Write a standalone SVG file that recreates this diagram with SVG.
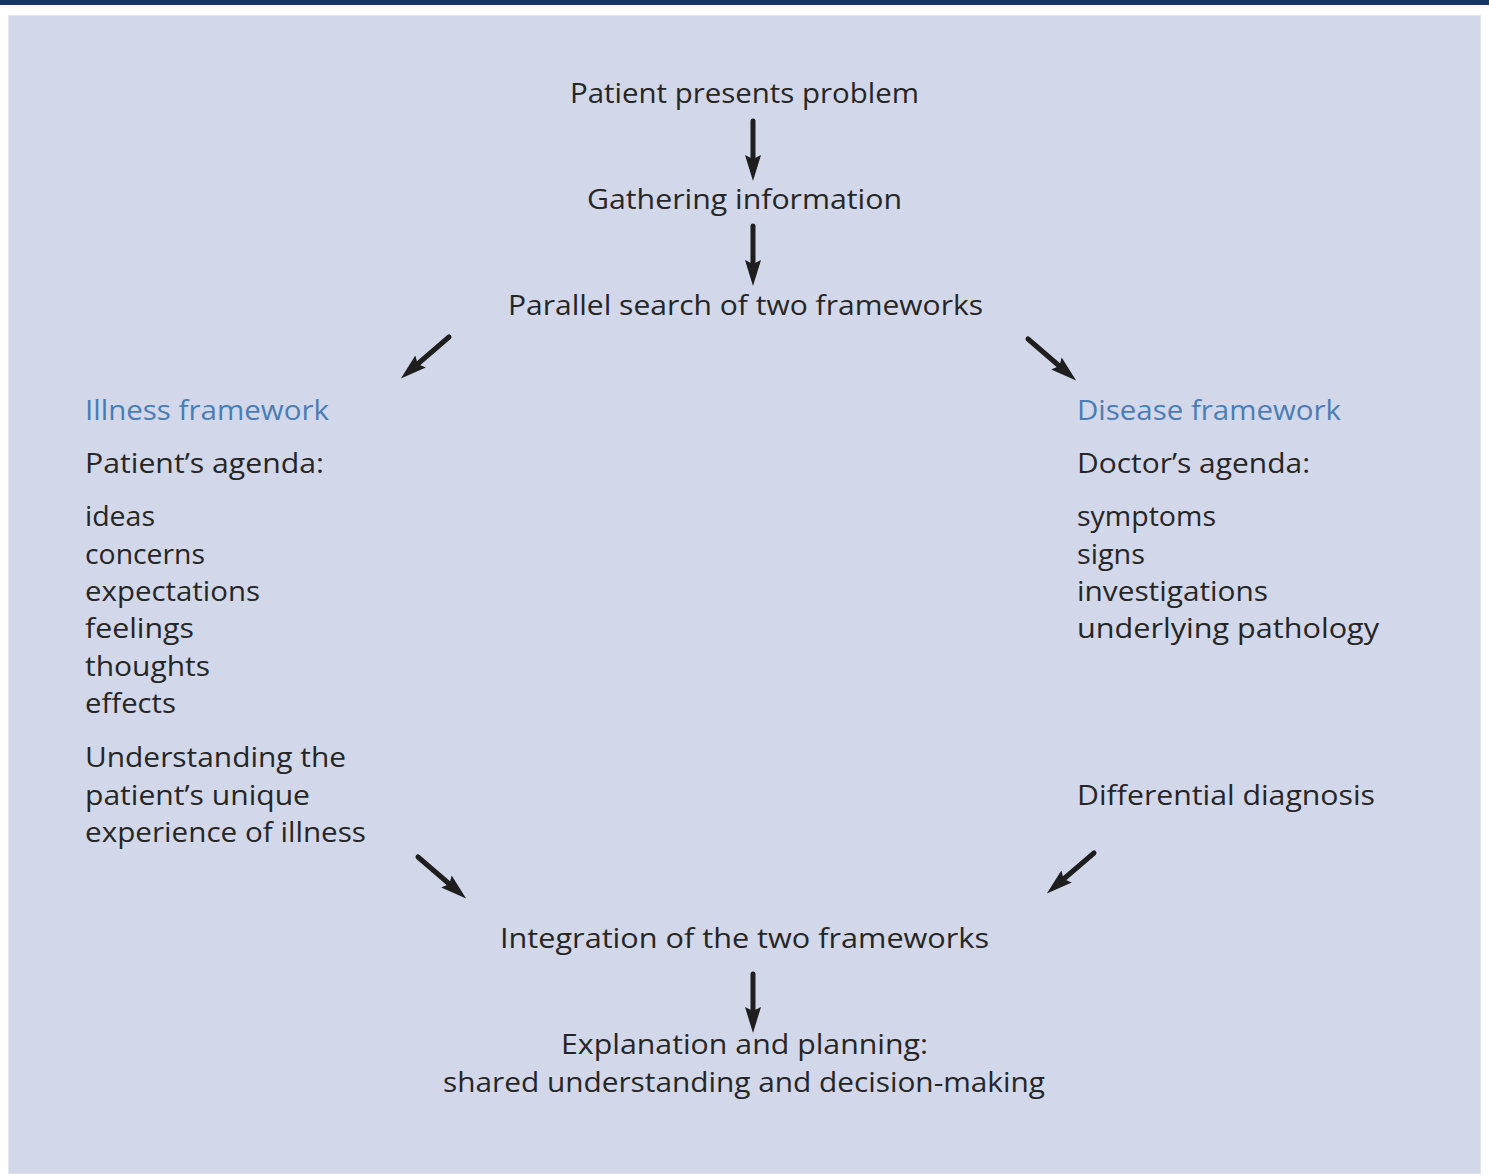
<svg xmlns="http://www.w3.org/2000/svg" width="1489" height="1175" viewBox="0 0 1489 1175">
<defs>
<marker id="ah" markerUnits="userSpaceOnUse" markerWidth="26" markerHeight="16" viewBox="0 0 26 16" refX="10" refY="8" orient="auto">
<path d="M0,0 L26,8 L0,16 L4,8 z" fill="#1e1e1e"/>
</marker>
<style>
text{font-family:"Open Sans","Noto Sans","DejaVu Sans",sans-serif;font-size:27px;fill:#262626}
.c{text-anchor:middle}
.b{fill:#4a7db4}
.arr{stroke:#1e1e1e;stroke-width:5;stroke-linecap:round;fill:none;marker-end:url(#ah)}
</style>
</defs>
<rect x="0" y="0" width="1489" height="1175" fill="#ffffff"/>
<rect x="0" y="0" width="1489" height="5" fill="#17365e"/>
<rect x="8.5" y="15.5" width="1472" height="1158" fill="#d2d7ea" stroke="#e2e4ec" stroke-width="1"/>

<g id="connectors">
<line class="arr" x1="753" y1="121" x2="753" y2="165"/>
<line class="arr" x1="753" y1="226" x2="753" y2="270"/>
<line class="arr" x1="449" y1="337" x2="413" y2="368"/>
<line class="arr" x1="1028" y1="339" x2="1064" y2="370"/>
<line class="arr" x1="418" y1="857" x2="454" y2="888"/>
<line class="arr" x1="1094" y1="853" x2="1059" y2="883"/>
<line class="arr" x1="753" y1="974" x2="753" y2="1017"/>
</g>

<g id="n-patient-presents"><text class="c" x="744.5" y="103" textLength="349" lengthAdjust="spacingAndGlyphs">Patient presents problem</text></g>
<g id="n-gathering"><text class="c" x="744.5" y="209" textLength="315" lengthAdjust="spacingAndGlyphs">Gathering information</text></g>
<g id="n-parallel"><text class="c" x="745.5" y="315" textLength="475" lengthAdjust="spacingAndGlyphs">Parallel search of two frameworks</text></g>

<g id="n-illness">
<text class="b" x="85" y="420" textLength="244" lengthAdjust="spacingAndGlyphs">Illness framework</text>
<text x="85" y="473" textLength="239" lengthAdjust="spacingAndGlyphs">Patient’s agenda:</text>
<text x="85" y="526" textLength="70" lengthAdjust="spacingAndGlyphs">ideas</text>
<text x="85" y="564" textLength="120" lengthAdjust="spacingAndGlyphs">concerns</text>
<text x="85" y="601" textLength="175" lengthAdjust="spacingAndGlyphs">expectations</text>
<text x="85" y="638" textLength="109" lengthAdjust="spacingAndGlyphs">feelings</text>
<text x="85" y="676" textLength="125" lengthAdjust="spacingAndGlyphs">thoughts</text>
<text x="85" y="713" textLength="91" lengthAdjust="spacingAndGlyphs">effects</text>
<text x="85" y="767" textLength="261" lengthAdjust="spacingAndGlyphs">Understanding the</text>
<text x="85" y="805" textLength="225" lengthAdjust="spacingAndGlyphs">patient’s unique</text>
<text x="85" y="842" textLength="281" lengthAdjust="spacingAndGlyphs">experience of illness</text>
</g>

<g id="n-disease">
<text class="b" x="1077" y="420" textLength="264" lengthAdjust="spacingAndGlyphs">Disease framework</text>
<text x="1077" y="473" textLength="233" lengthAdjust="spacingAndGlyphs">Doctor’s agenda:</text>
<text x="1077" y="526" textLength="139" lengthAdjust="spacingAndGlyphs">symptoms</text>
<text x="1077" y="564" textLength="68" lengthAdjust="spacingAndGlyphs">signs</text>
<text x="1077" y="601" textLength="191" lengthAdjust="spacingAndGlyphs">investigations</text>
<text x="1077" y="638" textLength="302" lengthAdjust="spacingAndGlyphs">underlying pathology</text>
<text x="1077" y="805" textLength="298" lengthAdjust="spacingAndGlyphs">Differential diagnosis</text>
</g>

<g id="n-integration"><text class="c" x="744.5" y="948" textLength="489" lengthAdjust="spacingAndGlyphs">Integration of the two frameworks</text></g>
<g id="n-explanation">
<text class="c" x="744.5" y="1054" textLength="367" lengthAdjust="spacingAndGlyphs">Explanation and planning:</text>
<text class="c" x="744" y="1092" textLength="602" lengthAdjust="spacingAndGlyphs">shared understanding and decision-making</text>
</g>
</svg>
